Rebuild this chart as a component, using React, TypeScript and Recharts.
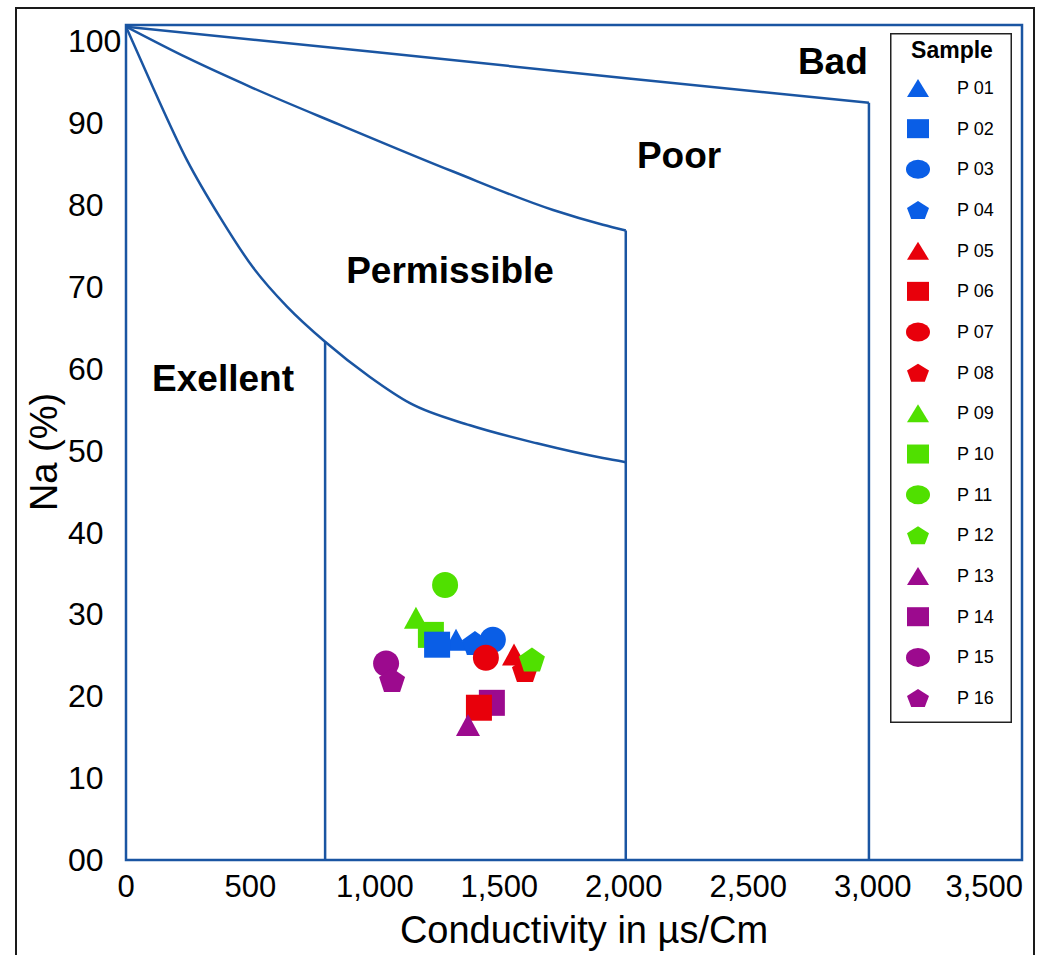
import React from "react";
import {
  ComposedChart,
  Line,
  Scatter,
  XAxis,
  YAxis,
  ReferenceArea,
  ReferenceLine,
  ReferenceDot,
} from "recharts";

// samples
const sampleNames = [
  "P 01", "P 02", "P 03", "P 04", "P 05", "P 06", "P 07", "P 08",
  "P 09", "P 10", "P 11", "P 12", "P 13", "P 14", "P 15", "P 16",
];
const conductivity = [1326, 1250, 1474, 1402, 1559, 1418, 1446, 1603, 1165, 1225, 1282, 1631, 1374, 1470, 1045, 1069];
const sodiumPct = [26.9, 26.3, 26.9, 26.5, 25.1, 18.6, 24.7, 23.2, 29.6, 27.5, 33.6, 24.5, 16.5, 19.2, 24.0, 22.0];
// drawing order seen in the picture (index into samples)
const drawOrder = [8, 9, 10, 13, 14, 0, 1, 2, 3, 4, 5, 6, 7, 11, 12, 15];

// Wilcox class boundaries
const badLineX = [0, 1000, 2009, 2985];
const badLineY = [101.8, 98.7, 95.5, 92.5];
const poorLineX = [0, 245, 510, 860, 1314, 1716, 1916, 2008];
const poorLineY = [101.8, 98.0, 94.3, 89.8, 84.1, 79.4, 77.6, 76.9];
const permLineX = [0, 108, 245, 378, 510, 647, 800, 980, 1141, 1382, 1651, 1916, 2008];
const permLineY = [101.8, 94.4, 85.5, 78.5, 72.4, 67.6, 63.3, 59.0, 55.8, 53.1, 50.9, 49.1, 48.6];
const limitX = [800, 2008, 2985];
const limitTop = [63.3, 76.9, 92.5];

const zoneNames = ["Bad", "Poor", "Permissible", "Exellent"];
const zoneX = [2840, 2222, 1302, 390];
const zoneY = [97.6, 86.1, 72.1, 58.9];

const xTicks = [0, 500, 1000, 1500, 2000, 2500, 3000, 3500];
const yTicks = [0, 10, 20, 30, 40, 50, 60, 70, 80, 90, 100];

const FONT = '"Liberation Sans", Arial, sans-serif';
const LINE_BLUE = "#1a55a2";
const groupColors = ["#0a5ee6", "#e8000b", "#50e000", "#9c0a8e"];
const markerKinds = ["triangle", "square", "circle", "pentagon"];

const toPoints = (xs: number[], ys: number[]) => xs.map((x, i) => ({ x, y: ys[i] }));

function drawMarker(kind: string, cx: number, cy: number, w: number, h: number, color: string) {
  if (kind === "square") {
    return <rect x={cx - w / 2} y={cy - h / 2} width={w} height={h} fill={color} />;
  }
  if (kind === "circle") {
    return <ellipse cx={cx} cy={cy} rx={w / 2} ry={h / 2} fill={color} />;
  }
  if (kind === "triangle") {
    const pts = `${cx},${cy - h / 2} ${cx - w / 2},${cy + h / 2} ${cx + w / 2},${cy + h / 2}`;
    return <polygon points={pts} fill={color} />;
  }
  const pts = [0, 1, 2, 3, 4]
    .map((k) => {
      const a = ((-90 + 72 * k) * Math.PI) / 180;
      const px = cx + (Math.cos(a) * w) / 1.902;
      const py = cy + ((Math.sin(a) + 0.0955) * h) / 1.809;
      return `${px},${py}`;
    })
    .join(" ");
  return <polygon points={pts} fill={color} />;
}

const plotSize: Record<string, [number, number]> = {
  square: [26, 26],
  circle: [26, 26],
  triangle: [24, 22],
  pentagon: [26, 24],
};
const legendSize: Record<string, [number, number]> = {
  square: [22, 19],
  circle: [24, 19],
  triangle: [22, 18],
  pentagon: [22, 18],
};

function SampleLegend() {
  return (
    <svg width={122} height={690} style={{ position: "absolute", left: 890, top: 33 }}>
      <rect x={0.75} y={0.75} width={120.5} height={688.5} fill="#fff" stroke="#222" strokeWidth={1.5} />
      <text x={62} y={17} textAnchor="middle" dominantBaseline="central" fontFamily={FONT} fontWeight={700} fontSize={23} fill="#000">
        Sample
      </text>
      {sampleNames.map((name, i) => {
        const kind = markerKinds[i % 4];
        const color = groupColors[Math.floor(i / 4)];
        const cy = 55 + i * 40.67;
        const [w, h] = legendSize[kind];
        return (
          <g key={name}>
            {drawMarker(kind, 28, cy, w, h, color)}
            <text x={67} y={cy} dominantBaseline="central" fontFamily={FONT} fontSize={18} fill="#000">
              {name}
            </text>
          </g>
        );
      })}
    </svg>
  );
}

export default function App() {
  const renderXTick = (p: any) => {
    const last = p.payload.value === xTicks[xTicks.length - 1];
    return (
      <text
        x={last ? 1023 : p.x}
        y={886}
        textAnchor={last ? "end" : "middle"}
        dominantBaseline="central"
        fontFamily={FONT}
        fontSize={31}
        fill="#000"
      >
        {Number(p.payload.value).toLocaleString("en-US")}
      </text>
    );
  };
  const renderYTick = (p: any) => (
    <text x={68} y={p.y} textAnchor="start" dominantBaseline="central" fontFamily={FONT} fontSize={32} fill="#000">
      {String(p.payload.value).padStart(2, "0")}
    </text>
  );

  return (
    <div style={{ position: "absolute", left: 0, top: 0, width: 1042, height: 955, background: "#fff" }}>
      <div
        style={{
          position: "absolute",
          left: 15,
          top: 7,
          width: 1020,
          height: 948,
          border: "2px solid #1a1a1a",
          borderBottom: "none",
          boxSizing: "border-box",
        }}
      />
      <div style={{ position: "absolute", left: 0, top: 0 }}>
        <ComposedChart width={1042} height={955} margin={{ top: 25, right: 20, bottom: 35, left: 56 }}>
          <XAxis
            type="number"
            dataKey="x"
            domain={[0, 3600]}
            ticks={xTicks}
            interval={0}
            allowDataOverflow
            axisLine={false}
            tickLine={false}
            height={60}
            tick={renderXTick}
            label={() => (
              <text x={584} y={930} textAnchor="middle" dominantBaseline="central" fontFamily={FONT} fontSize={38} fill="#000">
                Conductivity in µs/Cm
              </text>
            )}
          />
          <YAxis
            type="number"
            dataKey="y"
            domain={[0, 102]}
            ticks={yTicks}
            interval={0}
            allowDataOverflow
            axisLine={false}
            tickLine={false}
            width={70}
            tick={renderYTick}
            label={() => (
              <text
                transform="translate(44,452) rotate(-90)"
                textAnchor="middle"
                dominantBaseline="central"
                fontFamily={FONT}
                fontSize={38}
                fill="#000"
              >
                Na (%)
              </text>
            )}
          />
          <ReferenceArea x1={0} x2={3600} y1={0} y2={102} fill="none" fillOpacity={0} stroke={LINE_BLUE} strokeWidth={2.5} />
          <Line data={toPoints(badLineX, badLineY)} dataKey="y" type="linear" stroke={LINE_BLUE} strokeWidth={2.5} dot={false} activeDot={false} isAnimationActive={false} />
          <Line data={toPoints(poorLineX, poorLineY)} dataKey="y" type="monotone" stroke={LINE_BLUE} strokeWidth={2.5} dot={false} activeDot={false} isAnimationActive={false} />
          <Line data={toPoints(permLineX, permLineY)} dataKey="y" type="monotone" stroke={LINE_BLUE} strokeWidth={2.5} dot={false} activeDot={false} isAnimationActive={false} />
          {limitX.map((x, i) => (
            <ReferenceLine
              key={`lim-${i}`}
              segment={[
                { x, y: 0 },
                { x, y: limitTop[i] },
              ]}
              stroke={LINE_BLUE}
              strokeWidth={2.5}
            />
          ))}
          {zoneNames.map((name, i) => (
            <ReferenceDot
              key={name}
              x={zoneX[i]}
              y={zoneY[i]}
              r={0}
              fill="none"
              stroke="none"
              label={{ value: name, position: "center", fontSize: 37, fontWeight: 700, fill: "#000", fontFamily: FONT }}
            />
          ))}
          {drawOrder.map((i) => {
            const kind = markerKinds[i % 4];
            const color = groupColors[Math.floor(i / 4)];
            const [w, h] = plotSize[kind];
            return (
              <Scatter
                key={sampleNames[i]}
                name={sampleNames[i]}
                data={[{ x: conductivity[i], y: sodiumPct[i] }]}
                isAnimationActive={false}
                shape={(p: any) => drawMarker(kind, p.cx, p.cy, w, h, color)}
              />
            );
          })}
        </ComposedChart>
      </div>
      <SampleLegend />
    </div>
  );
}
